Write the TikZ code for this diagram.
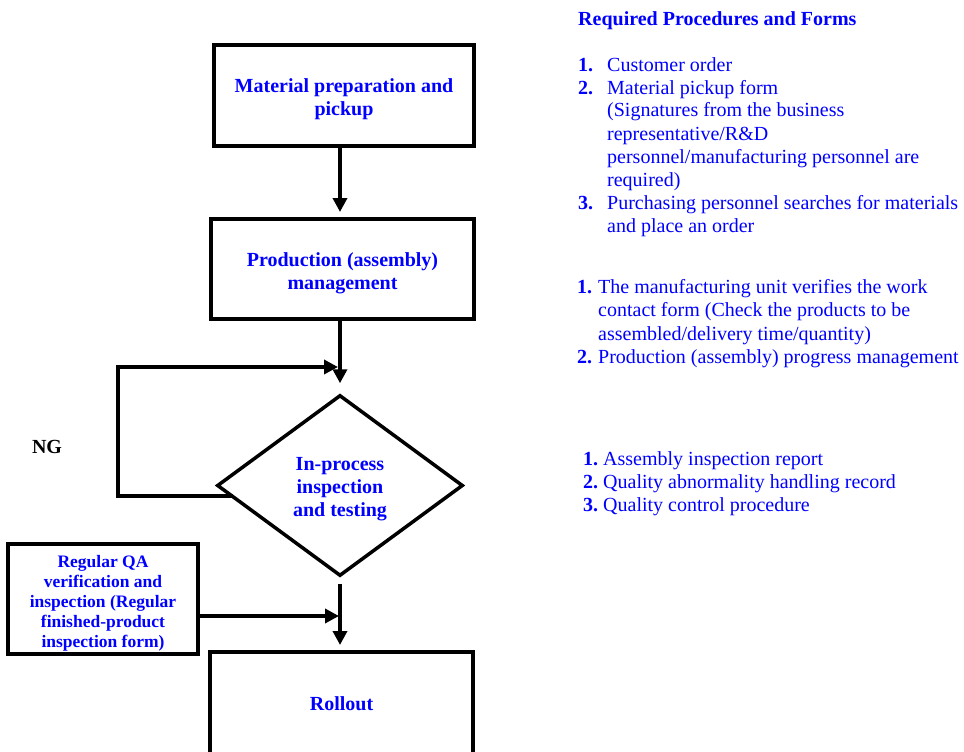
\documentclass[tikz,border=0pt]{standalone}
\usepackage{fontspec}
\setmainfont{Liberation Serif}
\usetikzlibrary{shapes.geometric,arrows.meta}
\definecolor{tblue}{RGB}{0,0,255}
\begin{document}
\begin{tikzpicture}[x=1pt,y=-1pt,
  box/.style={draw=black,line width=4pt,rectangle,inner sep=0pt},
  txt/.style={inner sep=0pt,align=center,text=tblue,font=\fontsize{20}{23}\selectfont\bfseries},
  arr/.style={draw=black,line width=4pt,line join=miter,-{Triangle[length=14pt,width=14pt]}},
  ln/.style={anchor=base west,inner sep=0pt,text=tblue,font=\fontsize{20}{23}\selectfont},
  num/.style={anchor=base west,inner sep=0pt,text=tblue,font=\fontsize{20}{23}\selectfont\bfseries}]
\useasboundingbox (0,0) rectangle (964,752);
% flow boxes
\node[box,minimum width=260pt,minimum height=101pt] (b1) at (344,95.5) {};
\node[txt] (b1t) at ([yshift=-4pt]b1.center) {Material preparation and\\pickup};
\node[box,minimum width=263pt,minimum height=100pt] (b2) at (342.5,269) {};
\node[txt] (b2t) at ([yshift=-4pt]b2.center) {Production (assembly)\\management};
\node[diamond,draw=black,line width=3.5pt,inner sep=0pt,minimum width=246pt,minimum height=181pt] (d) at (340,485.5) {};
\node[txt] (dt) at ([yshift=-4pt]d.center) {In-process\\inspection\\and testing};
\node[box,minimum width=263pt,minimum height=103pt] (r) at (341.5,703.5) {};
\node[txt] (rt) at (r.center) {Rollout};
\node[box,line width=3.5pt,minimum width=190pt,minimum height=110pt] (qa) at (103,599) {};
\node[txt,font=\fontsize{17.5}{20}\selectfont\bfseries] (qat) at ([yshift=-4pt]qa.center) {Regular QA\\verification and\\inspection (Regular\\finished-product\\inspection form)};
\node[inner sep=0pt,font=\fontsize{20}{23}\selectfont\bfseries] (ng) at (47,447) {NG};
% connectors
\draw[arr,shorten >=5pt] (b1.south -| d.north) -- (b2.north -| d.north);
\draw[arr,shorten >=10pt] (b2.south -| d.north) -- (d.north);
\coordinate (lb) at (233,496);
\coordinate (lc) at (118,496);
\coordinate (j) at (338,367);
\draw[arr] (lb) -- (lc) -- (lc |- j) -- (j);
\draw[arr,shorten <=6pt,shorten >=5pt] (d.south) -- (r.north -| d.south);
\coordinate (qe) at ([yshift=-17pt]qa.east);
\draw[arr,shorten >=1pt] (qe) -- (qe -| d.south);
% right text
\node[num] (t0) at (578,26) {Required Procedures and Forms};
\node[num] (n11) at (578,71) {1.};
\node[ln] (a1) at (607,71) {Customer order};
\node[num] (n12) at (578,94) {2.};
\node[ln] (a2) at (607,94) {Material pickup form};
\node[ln] (a3) at (607,117) {(Signatures from the business};
\node[ln] (a4) at (607,140) {representative/R\&D};
\node[ln] (a5) at (607,163) {personnel/manufacturing personnel are};
\node[ln] (a6) at (607,186) {required)};
\node[num] (n13) at (578,209) {3.};
\node[ln] (a7) at (607,209) {Purchasing personnel searches for materials};
\node[ln] (a8) at (607,232) {and place an order};
\node[num] (n21) at (577,293) {1.};
\node[ln] (c1) at (598,293) {The manufacturing unit verifies the work};
\node[ln] (c2) at (598,316) {contact form (Check the products to be};
\node[ln] (c3) at (598,340) {assembled/delivery time/quantity)};
\node[num] (n22) at (577,363) {2.};
\node[ln] (c4) at (598,363) {Production (assembly) progress management};
\node[num] (n31) at (583,465) {1.};
\node[ln] (e1) at (603,465) {Assembly inspection report};
\node[num] (n32) at (583,488) {2.};
\node[ln] (e2) at (603,488) {Quality abnormality handling record};
\node[num] (n33) at (583,511) {3.};
\node[ln] (e3) at (603,511) {Quality control procedure};
\end{tikzpicture}
\end{document}
